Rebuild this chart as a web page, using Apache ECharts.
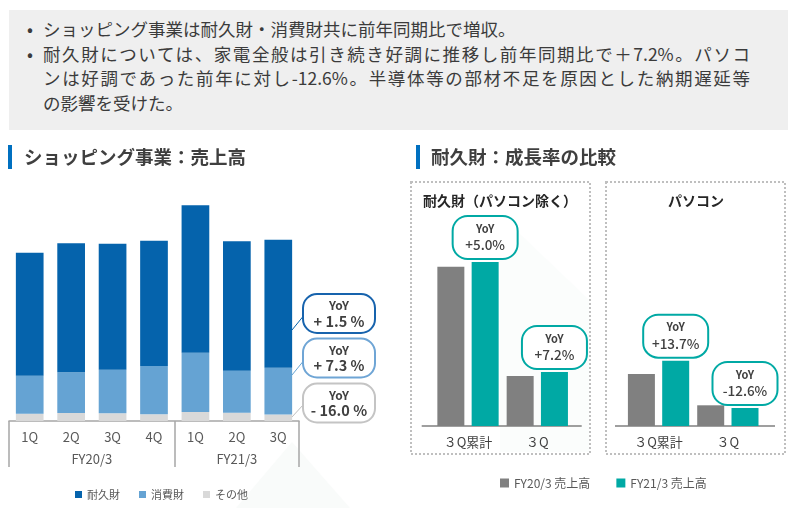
<!DOCTYPE html>
<html lang="ja">
<head>
<meta charset="utf-8">
<script src="https://cdn.jsdelivr.net/npm/echarts@6/dist/echarts.min.js"></script>
<style>
  html, body { margin: 0; padding: 0; background: #fff; }
  #wrap { position: relative; width: 800px; height: 508px; }
  #chart { position: absolute; left: 0; top: 0; width: 800px; height: 508px; }
  #note { position: absolute; left: 9px; top: 10px; width: 779px; height: 120px; background: #EFEFEF; z-index: 2;
          font-family: 'Noto Sans CJK JP', 'Noto Sans', sans-serif; font-size: 17.5px; color: #3B3B3B; }
  #note .ln { position: absolute; left: 34px; width: 707px; line-height: 24px; white-space: nowrap; }
  #note .just { text-align: justify; text-align-last: justify; text-justify: inter-character; }
  #note .bul { position: absolute; left: 18px; line-height: 24px; }
</style>
</head>
<body>
<div id="wrap">
  <div id="chart"></div>
  <div id="note"></div>
</div>
<script>
// ---------- text ----------
const noteBullets = [
  ['ショッピング事業は耐久財・消費財共に前年同期比で増収。'],
  ['耐久財については、家電全般は引き続き好調に推移し前年同期比で＋7.2%。パソコ',
   'ンは好調であった前年に対し-12.6%。半導体等の部材不足を原因とした納期遅延等',
   'の影響を受けた。']
];
const titleLeft = 'ショッピング事業：売上高';
const titleRight = '耐久財：成長率の比較';
const panelTitles = ['耐久財（パソコン除く）', 'パソコン'];

// ---------- left chart data ----------
const quarterLabels = ['1Q', '2Q', '3Q', '4Q', '1Q', '2Q', '3Q'];
const fiscalYears = ['FY20/3', 'FY21/3'];
const durable  = [123, 129, 126, 125.3, 147.4, 129.4, 127.9];
const consumer = [38, 40.7, 43.6, 48.3, 59.3, 42, 46.8];
const other    = [7.3, 8, 7.7, 6.7, 9, 8.3, 6.5];
const leftSeriesNames = ['耐久財', '消費財', 'その他'];
const yoyLeft = ['+ 1.5 %', '+ 7.3 %', '- 16.0 %'];

// ---------- right chart data ----------
const compareCats = ['３Q累計', '３Q'];
const rightSeriesNames = ['FY20/3 売上高', 'FY21/3 売上高'];
const exPcPrev = [159.3, 50];
const exPcCurr = [164, 54];
const pcPrev = [52, 20.7];
const pcCurr = [65.3, 18];
const yoyExPc = ['+5.0%', '+7.2%'];
const yoyPc = ['+13.7%', '-12.6%'];

// build note text
(function () {
  const note = document.getElementById('note');
  let row = 0;
  const top0 = 7;
  noteBullets.forEach(lines => {
    const b = document.createElement('div');
    b.className = 'bul';
    b.style.top = (top0 + row * 24.5) + 'px';
    b.textContent = '•';
    note.appendChild(b);
    lines.forEach((t, i) => {
      const d = document.createElement('div');
      d.className = 'ln' + (i < lines.length - 1 ? ' just' : '');
      d.style.top = (top0 + row * 24.5) + 'px';
      d.textContent = t;
      note.appendChild(d);
      row++;
    });
  });
})();

const C = {
  durable: '#0563AC', consumer: '#65A3D3', other: '#D9D9D9',
  prev: '#808080', curr: '#00A9A4', text: '#404040', axis: '#A6A6A6'
};
const FONT = "'Noto Sans CJK JP', 'Noto Sans', sans-serif";

const chart = echarts.init(document.getElementById('chart'), null, { renderer: 'canvas' });

function yoyLabel(arr) {
  return {
    show: true,
    position: 'top',
    distance: 4,
    formatter: p => '{a|YoY}\n{b|' + arr[p.dataIndex] + '}',
    backgroundColor: '#fff',
    borderColor: C.curr,
    borderWidth: 2,
    borderRadius: 14,
    width: 59,
    padding: [4, 2, 4, 2],
    align: 'center',
    rich: {
      a: { fontFamily: FONT, fontSize: 11, fontWeight: 'bold', color: C.text, lineHeight: 15, align: 'center' },
      b: { fontFamily: FONT, fontSize: 13.5, fontWeight: 500, color: C.text, lineHeight: 18, align: 'center' }
    }
  };
}

function bubble(x, y, w, h, color, l1, l2) {
  return {
    type: 'group',
    children: [
      { type: 'rect', shape: { x: x, y: y, width: w, height: h, r: 14 },
        style: { fill: '#fff', stroke: color, lineWidth: 2 } },
      { type: 'text', x: x + w / 2, y: y + 11.5,
        style: { text: l1, fill: C.text, font: 'bold 12px ' + FONT, textAlign: 'center', textVerticalAlign: 'middle' } },
      { type: 'text', x: x + w / 2, y: y + 27,
        style: { text: l2, fill: C.text, font: 'bold 14.5px ' + FONT, textAlign: 'center', textVerticalAlign: 'middle' } }
    ]
  };
}

const option = {
  backgroundColor: '#fff',
  animation: false,
  textStyle: { fontFamily: FONT },
  grid: [
    { left: 9, top: 180, width: 290, height: 241 },
    { left: 433.35, top: 200, width: 138.6, height: 226 },
    { left: 623.9, top: 200, width: 138.6, height: 226 }
  ],
  xAxis: [
    { type: 'category', gridIndex: 0, data: quarterLabels,
      axisLine: { show: true, lineStyle: { color: C.axis, width: 1.5 } },
      axisTick: { show: false },
      axisLabel: { margin: 10, fontSize: 13, color: '#595959', fontFamily: FONT } },
    { type: 'value', gridIndex: 0, min: 0, max: 7, position: 'bottom',
      axisLine: { show: false }, splitLine: { show: false },
      axisTick: { show: true, customValues: [0, 4, 7], length: 46, lineStyle: { color: C.axis, width: 1.5 } },
      axisLabel: { show: true, customValues: [2, 5.5], margin: 32, fontSize: 13, color: '#595959', fontFamily: FONT,
        formatter: v => (v < 4 ? fiscalYears[0] : fiscalYears[1]) } },
    { type: 'category', gridIndex: 1, data: compareCats,
      axisLine: { show: false }, axisTick: { show: false },
      axisLabel: { margin: 10, fontSize: 13, color: C.text, fontFamily: FONT } },
    { type: 'category', gridIndex: 2, data: compareCats,
      axisLine: { show: false }, axisTick: { show: false },
      axisLabel: { margin: 10, fontSize: 13, color: C.text, fontFamily: FONT } }
  ],
  yAxis: [
    { type: 'value', gridIndex: 0, min: 0, max: 241, show: false },
    { type: 'value', gridIndex: 1, min: 0, max: 226, show: false },
    { type: 'value', gridIndex: 2, min: 0, max: 226, show: false }
  ],
  legend: [
    { data: leftSeriesNames, left: 70, top: 484, icon: 'rect', itemWidth: 7, itemHeight: 7, itemGap: 19,
      textStyle: { fontSize: 11, color: '#595959', fontFamily: FONT }, selectedMode: false },
    { data: rightSeriesNames, left: 495, top: 472, icon: 'rect', itemWidth: 9, itemHeight: 9, itemGap: 26,
      textStyle: { fontSize: 12, color: '#595959', fontFamily: FONT }, selectedMode: false }
  ],
  series: [
    { name: leftSeriesNames[2], type: 'bar', stack: 'q', xAxisIndex: 0, yAxisIndex: 0, data: other,
      barWidth: 27.7, itemStyle: { color: C.other } },
    { name: leftSeriesNames[1], type: 'bar', stack: 'q', xAxisIndex: 0, yAxisIndex: 0, data: consumer,
      barWidth: 27.7, itemStyle: { color: C.consumer } },
    { name: leftSeriesNames[0], type: 'bar', stack: 'q', xAxisIndex: 0, yAxisIndex: 0, data: durable,
      barWidth: 27.7, itemStyle: { color: C.durable } },

    { name: rightSeriesNames[0], type: 'bar', xAxisIndex: 2, yAxisIndex: 1, data: exPcPrev,
      barWidth: 27, barGap: '27%', itemStyle: { color: C.prev } },
    { name: rightSeriesNames[1], type: 'bar', xAxisIndex: 2, yAxisIndex: 1, data: exPcCurr,
      barWidth: 27, barGap: '27%', itemStyle: { color: C.curr }, label: yoyLabel(yoyExPc) },
    { name: rightSeriesNames[0], type: 'bar', xAxisIndex: 3, yAxisIndex: 2, data: pcPrev,
      barWidth: 27, barGap: '27%', itemStyle: { color: C.prev } },
    { name: rightSeriesNames[1], type: 'bar', xAxisIndex: 3, yAxisIndex: 2, data: pcCurr,
      barWidth: 27, barGap: '27%', itemStyle: { color: C.curr }, label: yoyLabel(yoyPc) }
  ],
  graphic: [
    // faint background watermark shapes
    { type: 'polygon', z: -10, shape: { points: [[236, 508], [292, 442], [350, 508]] }, style: { fill: '#F9FBFA' } },
    { type: 'polygon', z: -10, shape: { points: [[500, 215], [589, 300], [589, 452], [500, 452]] }, style: { fill: '#FBFDFC' } },
    // section titles
    { type: 'rect', shape: { x: 8, y: 145, width: 4, height: 24 }, style: { fill: '#0070C0' } },
    { type: 'text', x: 24, y: 157, style: { text: titleLeft, fill: '#3F3F3F', font: 'bold 18.5px ' + FONT, textVerticalAlign: 'middle' } },
    { type: 'rect', shape: { x: 416, y: 145, width: 4, height: 24 }, style: { fill: '#0070C0' } },
    { type: 'text', x: 431, y: 157, style: { text: titleRight, fill: '#3F3F3F', font: 'bold 18.5px ' + FONT, textVerticalAlign: 'middle' } },
    // dotted panels
    { type: 'rect', shape: { x: 411, y: 182, width: 179, height: 272 }, style: { fill: 'none', stroke: '#BFBFBF', lineWidth: 2, lineDash: [2, 2] } },
    { type: 'rect', shape: { x: 606, y: 182, width: 179, height: 272 }, style: { fill: 'none', stroke: '#BFBFBF', lineWidth: 2, lineDash: [2, 2] } },
    { type: 'text', x: 500, y: 201, style: { text: panelTitles[0], fill: '#262626', font: 'bold 14px ' + FONT, textAlign: 'center', textVerticalAlign: 'middle' } },
    { type: 'text', x: 696, y: 201, style: { text: panelTitles[1], fill: '#262626', font: 'bold 14px ' + FONT, textAlign: 'center', textVerticalAlign: 'middle' } },
    // right axis baselines
    { type: 'line', shape: { x1: 421.7, y1: 426, x2: 581.7, y2: 426 }, style: { stroke: '#7F7F7F', lineWidth: 1.5 } },
    { type: 'line', shape: { x1: 615, y1: 426, x2: 775, y2: 426 }, style: { stroke: '#7F7F7F', lineWidth: 1.5 } },
    // left YoY callouts
    { type: 'line', shape: { x1: 292, y1: 330, x2: 303, y2: 316.5 }, style: { stroke: C.durable, lineWidth: 1 } },
    { type: 'line', shape: { x1: 292, y1: 375, x2: 303, y2: 361.5 }, style: { stroke: C.consumer, lineWidth: 1 } },
    { type: 'line', shape: { x1: 292, y1: 417, x2: 303, y2: 405 }, style: { stroke: '#BFBFBF', lineWidth: 1 } },
    bubble(303, 294, 72, 39, '#1763AD', 'YoY', yoyLeft[0]),
    bubble(303, 338.5, 72, 39, '#6FA5D5', 'YoY', yoyLeft[1]),
    bubble(303, 383.5, 72, 39, '#C4C4C4', 'YoY', yoyLeft[2])
  ]
};
chart.setOption(option);
</script>
</body>
</html>
